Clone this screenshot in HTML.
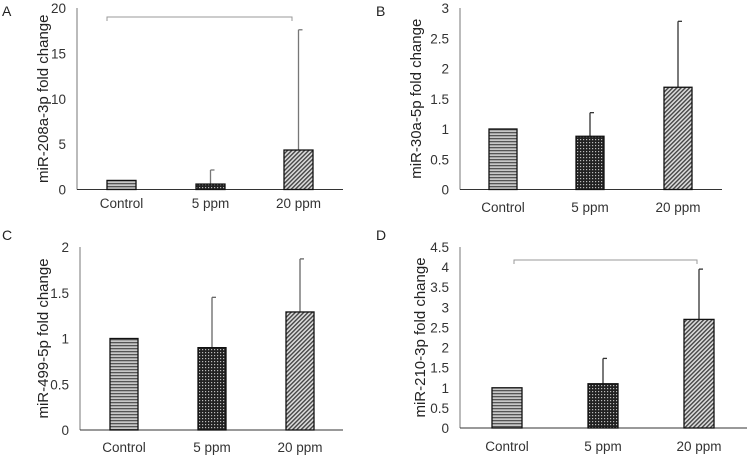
<!DOCTYPE html>
<html><head><meta charset="utf-8"><style>
body{margin:0;background:#fff}
svg{display:block;font-family:"Liberation Sans",sans-serif}
</style></head><body>
<svg id="fig" width="748" height="456" viewBox="0 0 748 456" xmlns="http://www.w3.org/2000/svg">
<defs>
<pattern id="pH" width="4" height="3" patternUnits="userSpaceOnUse"><rect width="4" height="3" fill="#c8c8c8"/><rect width="4" height="1.3" fill="#555"/></pattern>
<pattern id="pD" width="3" height="3" patternUnits="userSpaceOnUse"><rect width="3" height="3" fill="#222"/><rect x="1" y="1" width="1.2" height="1.2" fill="#bbb"/></pattern>
<pattern id="pS" width="3" height="3" patternUnits="userSpaceOnUse" patternTransform="rotate(45)"><rect width="3" height="3" fill="#ddd"/><rect width="1.4" height="3" fill="#444"/></pattern>
</defs>
</svg>
<script>
const categories=["Control","5 ppm","20 ppm"];
const valuesA=[1,0.6,4.35];
const errTopA=[1,2.15,17.6];
const valuesB=[1,0.88,1.69];
const errTopB=[1,1.27,2.78];
const valuesC=[1,0.9,1.29];
const errTopC=[1,1.45,1.87];
const valuesD=[1,1.1,2.7];
const errTopD=[1,1.73,3.95];
const ticksA=[0,5,10,15,20];
const ticksB=[0,0.5,1,1.5,2,2.5,3];
const ticksC=[0,0.5,1,1.5,2];
const ticksD=[0,0.5,1,1.5,2,2.5,3,3.5,4,4.5];

const NS="http://www.w3.org/2000/svg";
const svg=document.getElementById('fig');
function mk(tag,attrs,parent){const e=document.createElementNS(NS,tag);for(const k in attrs)e.setAttribute(k,attrs[k]);(parent||svg).appendChild(e);return e;}
const fills=["url(#pH)","url(#pD)","url(#pS)"];
const panels=[
 {letter:"A",lx:2,ly:16,ax:77,x1:343,y0:189.5,yt:8,max:20,ticks:ticksA,vals:valuesA,err:errTopA,bx:[107,196,284],bw:29,title:"miR-208a-3p fold change",tx:43,bracket:{y:17,x1:107,x2:292},ly2:210,errCol:"#777"},
 {letter:"B",lx:376,ly:16,ax:460,x1:722,y0:189.5,yt:8,max:3,ticks:ticksB,vals:valuesB,err:errTopB,bx:[489,576,664],bw:28,title:"miR-30a-5p fold change",tx:416,bracket:null,ly2:214,errCol:"#333"},
 {letter:"C",lx:2,ly:240,ax:80,x1:343,y0:430,yt:247,max:2,ticks:ticksC,vals:valuesC,err:errTopC,bx:[110,198,286],bw:28,title:"miR-499-5p fold change",tx:43,bracket:null,ly2:454,errCol:"#666"},
 {letter:"D",lx:376,ly:240,ax:460,x1:747,y0:428,yt:247,max:4.5,ticks:ticksD,vals:valuesD,err:errTopD,bx:[492,588,684],bw:30,title:"miR-210-3p fold change",tx:420,bracket:{y:260,x1:514,x2:697},ly2:453,errCol:"#333"}
];
panels.forEach((p,pi)=>{
 const g=mk('g',{});
 
 
 const y=v=>p.y0-(v/p.max)*(p.y0-p.yt);
 const L=mk('text',{x:p.lx,y:p.ly,'font-size':14,fill:'#222'},g);L.textContent=p.letter;
 
 
 const ya=mk('line',{x1:p.ax,y1:p.yt,x2:p.ax,y2:p.y0,stroke:'#777','stroke-width':1},g);
 
 
 const xa=mk('line',{x1:p.ax,y1:p.y0,x2:p.x1,y2:p.y0,stroke:'#333','stroke-width':1},g);
 
 
 p.ticks.forEach(t=>{
  const tl=mk('text',{x:p.ax-11,y:y(t)+5,'font-size':13.5,'text-anchor':'end',fill:'#333'},g);tl.textContent=t;
  
  
 });
 const tt=mk('text',{x:0,y:0,'font-size':15,'text-anchor':'middle',fill:'#222',transform:`translate(${p.tx+5},${(p.yt+p.y0)/2}) rotate(-90)`},g);tt.textContent=p.title;
 
 
 categories.forEach((c,i)=>{
  const cx=p.bx[i]+p.bw/2;
  const top=y(p.vals[i]);
  if(p.err[i]>p.vals[i]){
   const e=mk('line',{x1:cx,y1:y(p.err[i]),x2:cx,y2:top,stroke:p.errCol,'stroke-width':1.3},g);
   
   
   const cap=mk('line',{x1:cx,y1:y(p.err[i]),x2:cx+4,y2:y(p.err[i]),stroke:p.errCol,'stroke-width':1.3},g);
   
   
  }
  const b=mk('rect',{x:p.bx[i],y:top,width:p.bw,height:p.y0-top,fill:fills[i],stroke:'#111','stroke-width':1.3},g);
  
  
  const xl=mk('text',{x:cx,y:p.ly2-2,'font-size':13.5,'text-anchor':'middle',fill:'#333'},g);xl.textContent=c;
  
  
 });
 if(p.bracket){
  const br=mk('path',{d:`M${p.bracket.x1},${p.bracket.y+4}V${p.bracket.y}H${p.bracket.x2}V${p.bracket.y+4}`,fill:'none',stroke:'#999','stroke-width':1},g);
  
  
 }
});
</script>
</body></html>
